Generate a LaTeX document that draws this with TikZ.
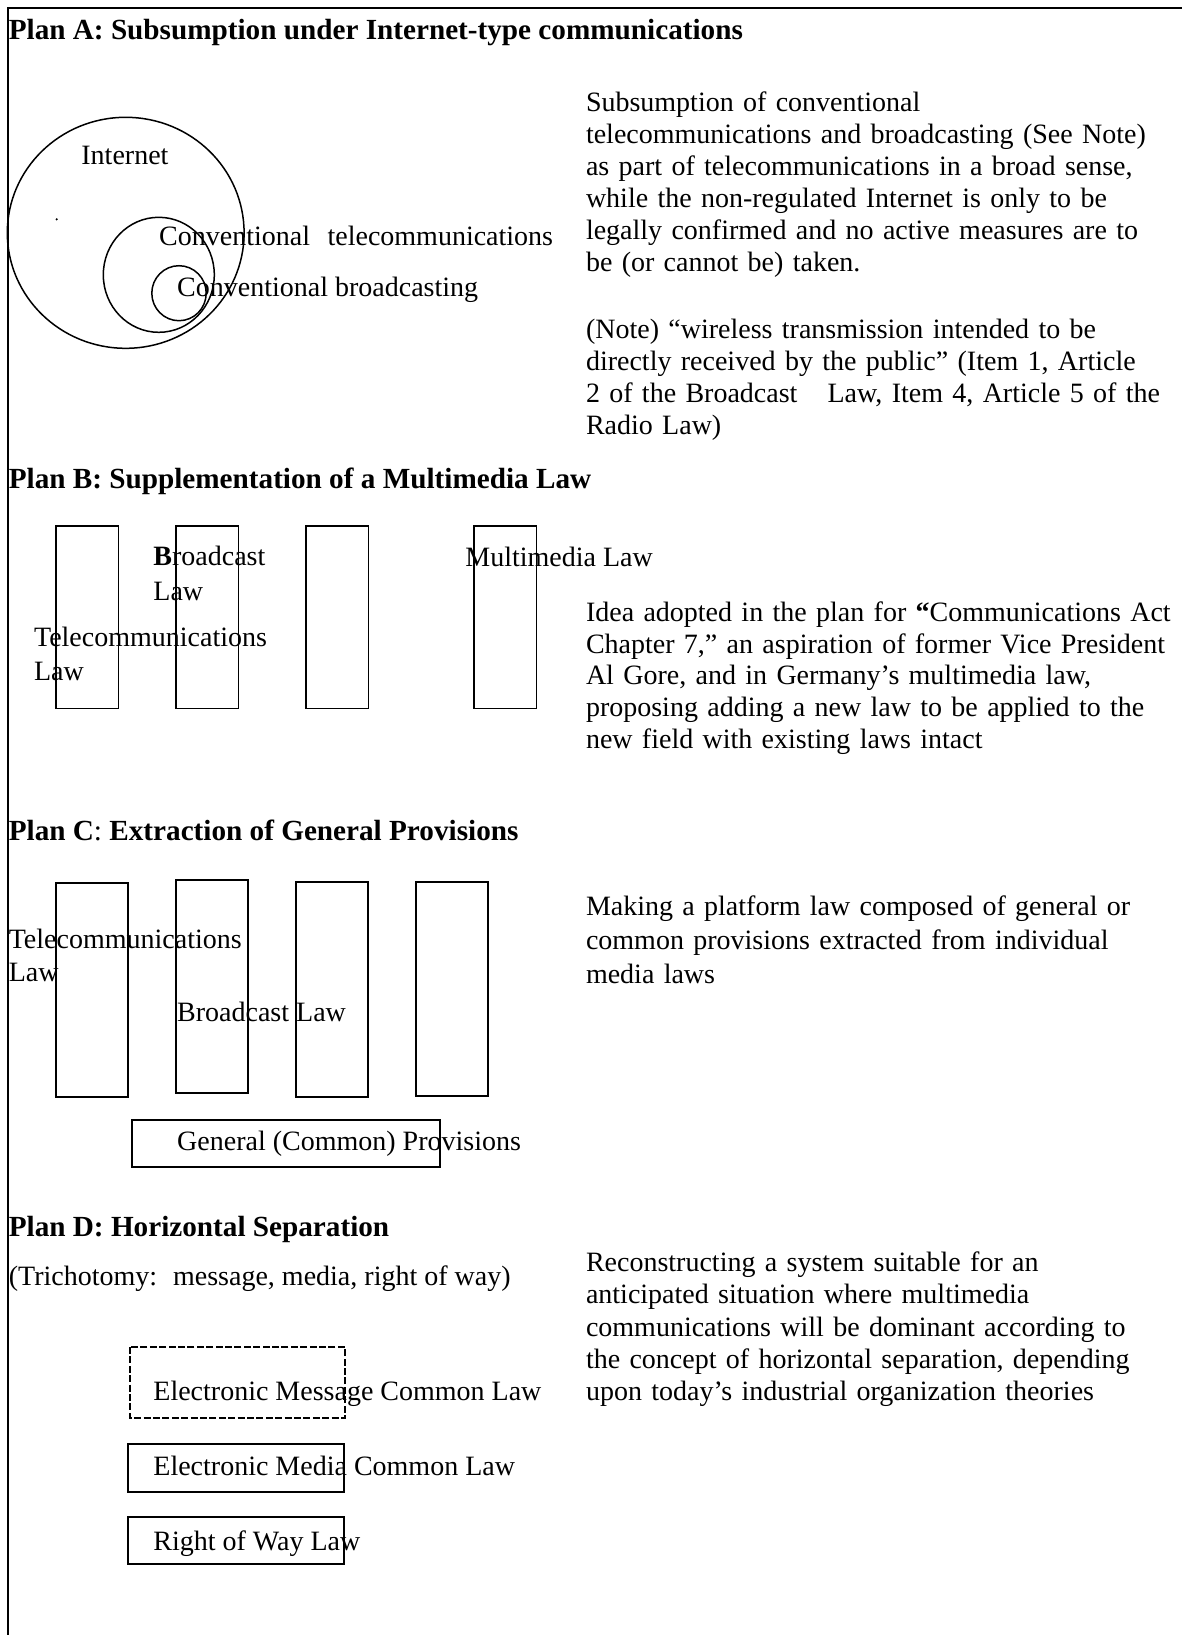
\documentclass[tikz,border=0pt]{standalone}
\usepackage{fontspec}
\setmainfont{Liberation Serif}
\tikzset{
  lbl/.style={anchor=base west, inner sep=0pt, font=\fontsize{14}{16}\selectfont},
  planhead/.style={lbl, font=\fontsize{14.6}{17}\selectfont\bfseries},
  para/.style={lbl, text width=300pt, align=left},
  lawbox/.style={draw, line width=0.75pt},
  ring/.style={draw, line width=0.75pt},
}
\begin{document}
\begin{tikzpicture}[x=0.5pt, y=-0.5pt]
  \useasboundingbox (0,0) rectangle (1182,1635);
  % 枠
  \draw[line width=1.1pt] (8,1635) -- (8,8) -- (1182,8);

  % Plan A
  \node[planhead] (planA) at (8.4,39.3) {Plan A: Subsumption under Internet-type communications};
  \draw[ring] (125.7,232.8) ellipse[x radius=59.2pt, y radius=57.75pt];
  \draw[ring] (158.8,274.8) ellipse[x radius=27.75pt, y radius=28.75pt];
  \draw[ring] (179,293.2) ellipse[x radius=13.6pt, y radius=13.75pt];
  \fill (56.7,219.3) circle[radius=0.6pt];
  \node[lbl] (internet) at (81,164) {Internet};
  \node[lbl] (convtel) at (158.8,245) {Conventional\hspace{8.75pt}telecommunications};
  \node[lbl] (convbc) at (176.8,296.7) {Conventional broadcasting};
  \node[para] (descA) at (585.6,111.7) {Subsumption of conventional\\
    telecommunications and broadcasting (See Note)\\
    as part of telecommunications in a broad sense,\\
    while the non-regulated Internet is only to be\\
    legally confirmed and no active measures are to\\
    be (or cannot be) taken.};
  \node[para] (noteA) at (585.6,338.3) {(Note) “wireless transmission intended to be\\
    directly received by the public” (Item 1, Article\\
    2 of the Broadcast\hspace{15pt}Law, Item 4, Article 5 of the\\
    Radio Law)};

  % Plan B
  \node[planhead] (planB) at (8.4,488.3) {Plan B: Supplementation of a Multimedia Law};
  \foreach \x in {56,176,306,474} {
    \draw[lawbox] (\x,526) rectangle ++(62.4,182.3);
  }
  \node[para, font=\fontsize{14}{17.5}\selectfont] (bcastB) at (153,565) {\textbf{B}roadcast\\Law};
  \node[lbl] (mmlaw) at (465,566.7) {Multimedia Law};
  \node[para, font=\fontsize{14}{16.7}\selectfont] (telB) at (33.7,646.7) {Telecommunications\\Law};
  \node[para, font=\fontsize{14}{15.8}\selectfont] (descB) at (585.6,621.7) {Idea adopted in the plan for \textbf{“}Communications Act\\
    Chapter 7,” an aspiration of former Vice President\\
    Al Gore, and in Germany’s multimedia law,\\
    proposing adding a new law to be applied to the\\
    new field with existing laws intact};

  % Plan C
  \node[planhead] (planC) at (8.4,840) {Plan C\mdseries:\bfseries{} Extraction of General Provisions};
  \foreach \x/\t/\b in {56/883/1097, 176/880/1093, 296/882/1097, 416/882/1096} {
    \draw[lawbox] (\x,\t) rectangle (\x+72.2,\b);
  }
  \draw[lawbox] (132,1120) rectangle (440,1167);
  \node[para, font=\fontsize{14}{16.7}\selectfont] (telC) at (8.4,948.3) {Telecommunications\\Law};
  \node[lbl] (bcastC) at (176.8,1021.7) {Broadcast Law};
  \node[lbl] (general) at (176.8,1150) {General (Common) Provisions};
  \node[para, font=\fontsize{14}{17.1}\selectfont] (descC) at (585.6,915) {\makebox[275pt][s]{Making a platform law composed of general or}\\
    \makebox[277.5pt][s]{common provisions extracted from individual}\\
    media laws};

  % Plan D
  \node[planhead] (planD) at (8.4,1236.7) {Plan D: Horizontal Separation};
  \node[lbl] (tricho) at (8.4,1285) {(Trichotomy:\hspace{8pt}message, media, right of way)};
  \draw[lawbox, line width=1.3pt, dash pattern=on 3.5pt off 1.2pt] (130,1347) rectangle (345,1418);
  \draw[lawbox] (128,1444) rectangle (344,1492);
  \draw[lawbox] (128,1517) rectangle (344,1564);
  \node[lbl] (emsg) at (153,1400) {Electronic Message Common Law};
  \node[lbl] (emedia) at (153,1475) {Electronic Media Common Law};
  \node[lbl] (rowlaw) at (153,1550) {Right of Way Law};
  \node[para, font=\fontsize{14}{16.1}\selectfont] (descD) at (585.6,1271.7) {Reconstructing a system suitable for an\\
    anticipated situation where multimedia\\
    communications will be dominant according to\\
    the concept of horizontal separation, depending\\
    upon today’s industrial organization theories};
\end{tikzpicture}
\end{document}
